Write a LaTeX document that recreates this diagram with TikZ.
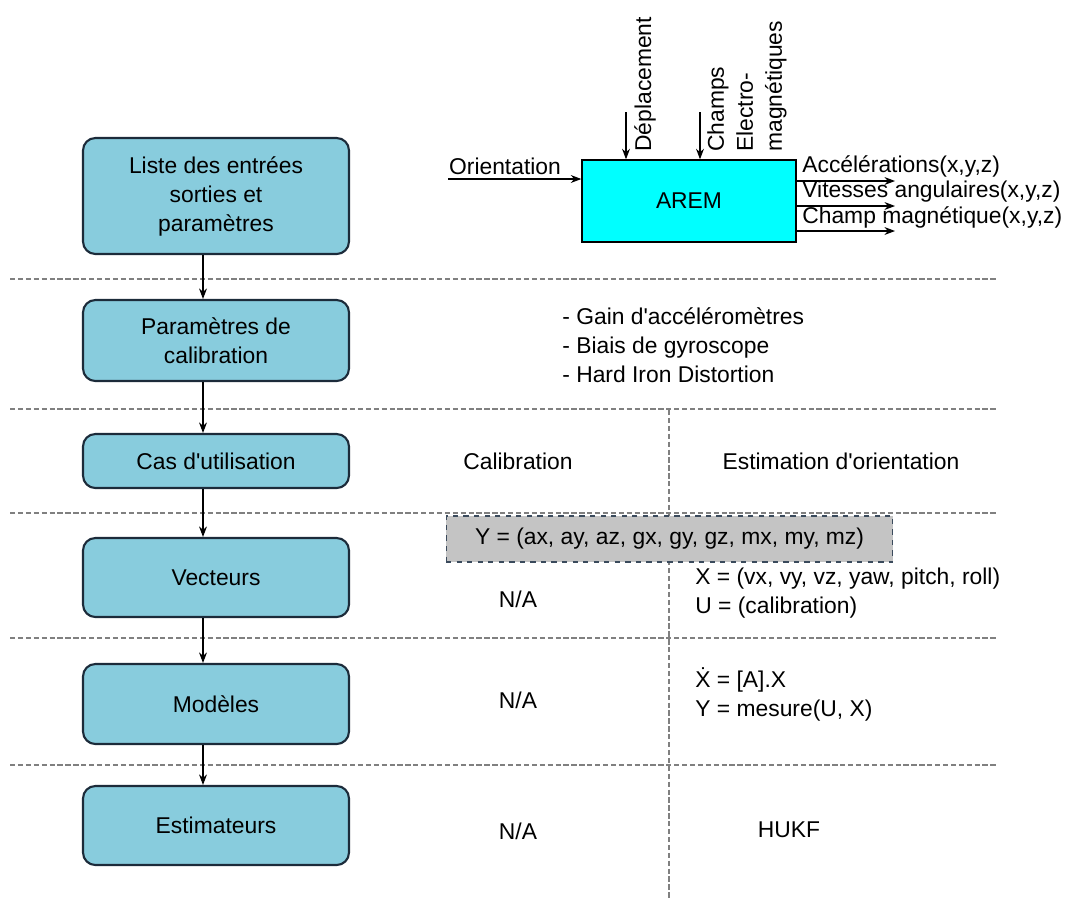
\documentclass[tikz,border=0pt]{standalone}
\usepackage{fontspec}
\setmainfont{Liberation Sans}
\usetikzlibrary{arrows.meta,positioning}
\definecolor{boxblue}{HTML}{88CCDD}
\definecolor{boxedge}{HTML}{1C2B3A}
\definecolor{arem}{HTML}{00FFFF}
\definecolor{sepgray}{HTML}{808080}
\definecolor{ygray}{HTML}{C4C4C4}
\definecolor{yedge}{HTML}{3A4A5C}
\tikzset{
  stage/.style={rectangle,rounded corners=7pt,draw=boxedge,fill=boxblue,
                line width=1.2pt,minimum width=5.32cm,align=center,
                font=\fontsize{13}{16.5}\selectfont},
  sep/.style={draw=sepgray,line width=1.1pt,dash pattern=on 3pt off 1.5pt},
  arr/.style={-{Stealth[length=6pt,width=4.5pt]},line width=0.6pt,black},
  txt/.style={font=\fontsize{13}{16.5}\selectfont,inner sep=0pt},
}

\begin{document}
\begin{tikzpicture}[x=0.02cm,y=-0.02cm]
  \useasboundingbox (0,0) rectangle (1069,900);

  % column separators
  \draw[sep] (10,279) -- (997,279);
  \draw[sep] (10,409) -- (997,409);
  \draw[sep] (10,513) -- (997,513);
  \draw[sep] (10,638) -- (997,638);
  \draw[sep] (10,765) -- (997,765);
  \draw[sep] (669,410) -- (669,900);

  % left column
  \node[stage,minimum height=2.32cm] (s1) at (216,196) {Liste des entrées\\sorties et\\paramètres};
  \node[stage,minimum height=1.62cm] (s2) at (216,340.5) {Paramètres de\\calibration};
  \node[stage,minimum height=1.08cm] (s3) at (216,461) {Cas d\textquotesingle utilisation};
  \node[stage,minimum height=1.58cm] (s4) at (216,577.5) {Vecteurs};
  \node[stage,minimum height=1.60cm] (s5) at (216,704) {Modèles};
  \node[stage,minimum height=1.58cm] (s6) at (216,825.5) {Estimateurs};

  \foreach \i/\j in {s1/s2,s2/s3,s3/s4,s4/s5,s5/s6}
    \draw[arr] ([xshift=-0.26cm]\i.south) -- ([xshift=-0.26cm]\j.north);

  % AREM block
  \node[draw=black,fill=arem,line width=0.8pt,minimum width=4.28cm,
        minimum height=1.64cm,txt] (arem) at (689,201) {AREM};
  \node[txt] (orient) at (505,166) {Orientation};
  \coordinate (oin) at (448,179);
  \draw[arr] (oin) -- (arem.west |- oin);
  \coordinate (dtop) at (626,112);
  \coordinate (ctop) at (700,112);
  \draw[arr] (dtop) -- (dtop |- arem.north);
  \draw[arr] (ctop) -- (ctop |- arem.north);
  \node[txt,rotate=90,anchor=west] (depl) at (645,152) {Déplacement};
  \node[txt,rotate=90,anchor=west,align=left] (champs) at (747,152)
    {Champs\\Electro-\\magnétiques};

  \coordinate (acc) at (895,181);
  \coordinate (vit) at (895,206);
  \coordinate (mag) at (895,231);
  \draw[arr] (arem.east |- acc) -- (acc);
  \draw[arr] (arem.east |- vit) -- (vit);
  \draw[arr] (arem.east |- mag) -- (mag);
  \node[txt,anchor=west] (acct) at (802,166) {Accélérations(x,y,z)};
  \node[txt,anchor=west] (vitt) at (802,192) {Vitesses angulaires(x,y,z)};
  \node[txt,anchor=west] (magt) at (802,217) {Champ magnétique(x,y,z)};

  % calibration parameters
  \node[txt,anchor=west,align=left] (calib) at (562,345)
    {- Gain d\textquotesingle accéléromètres\\- Biais de gyroscope\\- Hard Iron Distortion};

  % use cases
  \node[txt] (cal) at (518,461) {Calibration};
  \node[txt] (est) at (841,461) {Estimation d\textquotesingle orientation};

  % vectors
  \node[txt,draw=yedge,dashed,fill=ygray,line width=0.6pt,minimum width=8.94cm,
        minimum height=0.92cm] (yvec) at (669.5,539)
    {Y = (ax, ay, az, gx, gy, gz, mx, my, mz)};
  \node[txt] (na1) at (518,599) {N/A};
  \node[txt,anchor=west,align=left] (xvec) at (695,593)
    {X = (vx, vy, vz, yaw, pitch, roll)\\U = (calibration)};

  % models
  \node[txt] (na2) at (518,700) {N/A};
  \node[txt,anchor=west,align=left] (model) at (695,694)
    {\.{X} = [A].X\\Y = mesure(U, X)};

  % estimators
  \node[txt] (na3) at (518,831) {N/A};
  \node[txt] (hukf) at (789,830) {HUKF};
\end{tikzpicture}
\end{document}
